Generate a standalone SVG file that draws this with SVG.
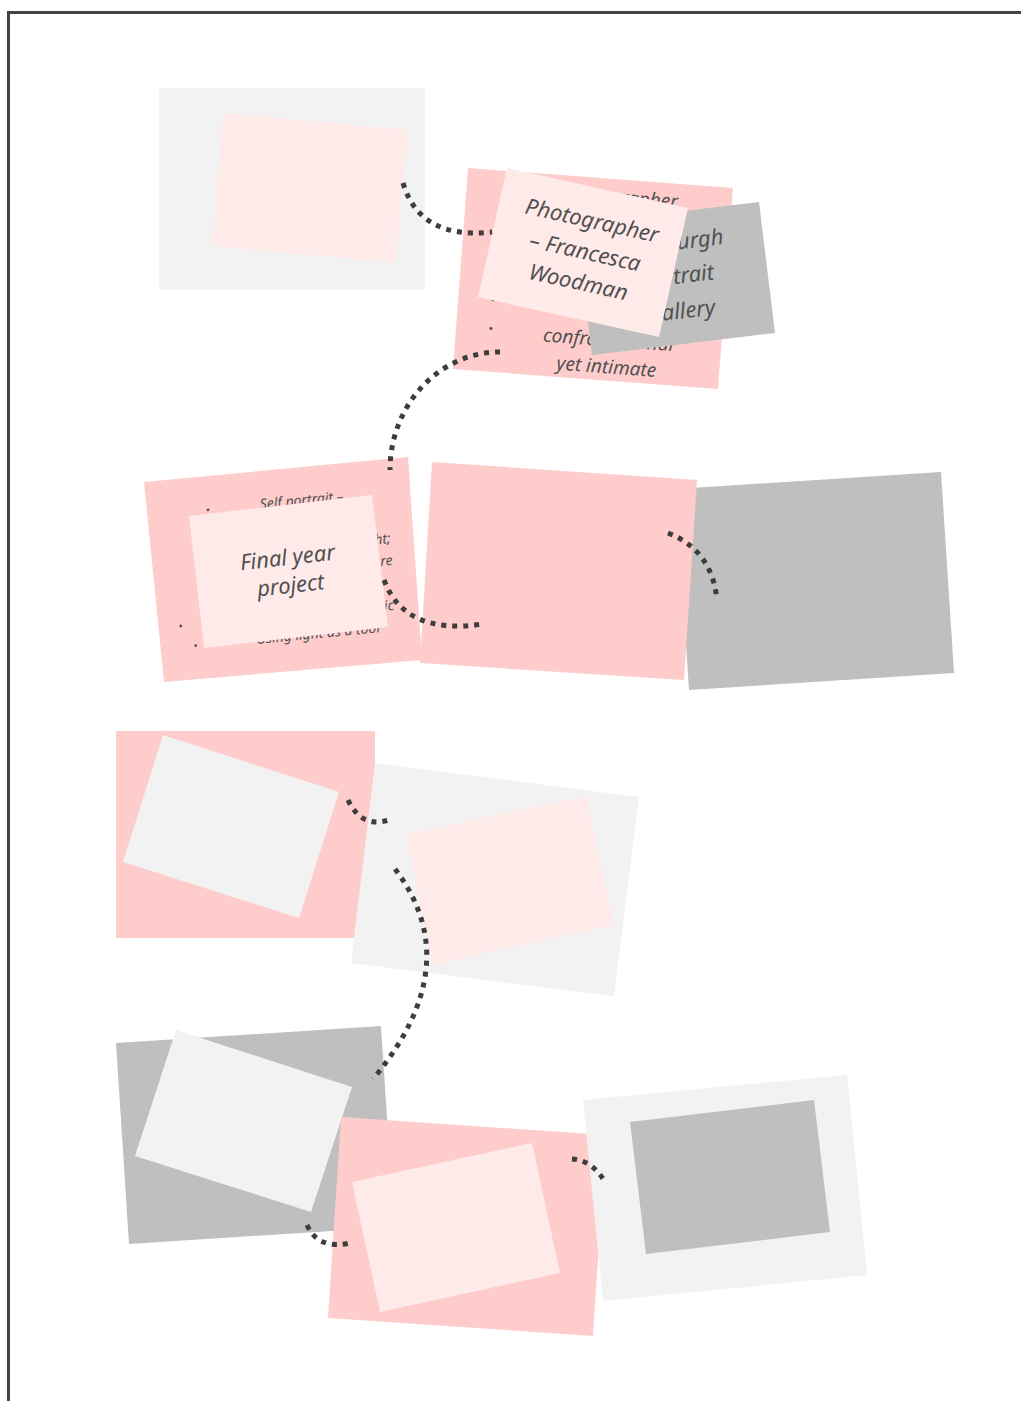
<svg xmlns="http://www.w3.org/2000/svg" width="1021" height="1401" viewBox="0 0 1021 1401">
<style>
.pink{fill:#ffcccc}
.lpink{fill:#ffeaea}
.gray{fill:#bfbfbf}
.lgray{fill:#f2f2f2}
.t{font-family:"Noto Sans","DejaVu Sans",sans-serif;font-style:italic;fill:#505050}
.title{font-size:22px;text-anchor:middle}
.sub{font-size:19px;text-anchor:middle}
.small{font-size:14px}
.bul{fill:#505050}
.conn{fill:none;stroke:#3d3d3d;stroke-width:5;stroke-dasharray:5 6}
</style>
<rect width="1021" height="1401" fill="#ffffff"/>
<path d="M8.5,1401 V12.5 H1021" fill="none" stroke="#444444" stroke-width="3"/>

<g id="node1">
<rect class="lgray" x="159" y="88" width="266" height="202"/>
<polygon class="lpink" points="223,113 408,130 396,263 212,246"/>
</g>

<g id="node2">
<polygon class="pink" points="468,168 733,188 718,389 453,369"/>
<g transform="rotate(4.3 593 278.5)">
<text class="t sub" x="613" y="202">Photographer</text>
<circle class="bul" cx="495" cy="307" r="1.6"/>
<circle class="bul" cx="495" cy="336" r="1.6"/>
<text class="t sub" x="613" y="345">confrontational</text>
<text class="t sub" x="613" y="372">yet intimate</text>
</g>
<polygon class="gray" points="576,224 759,202 775,333 592,355"/>
<g transform="rotate(-6.9 675.5 278.5)">
<text class="t title" x="677" y="250">Edinburgh</text>
<text class="t title" x="677" y="284">Portrait</text>
<text class="t title" x="677" y="319">Gallery</text>
</g>
<polygon class="lpink" points="507,168 688,208 659,337 478,297"/>
<g transform="rotate(12.5 583 252.5)">
<text class="t title" x="585" y="227">Photographer</text>
<text class="t title" x="585" y="259">– Francesca</text>
<text class="t title" x="585" y="290">Woodman</text>
</g>
</g>

<g id="node3">
<polygon class="pink" points="144,482 408,457 422,660 164,682"/>
<g transform="rotate(-5.4 284.5 570)">
<circle class="bul" cx="214" cy="503" r="1.4"/>
<text class="t small" x="308" y="507" text-anchor="middle">Self portrait –</text>
<text class="t small" x="393" y="553" text-anchor="end">a moment of thought;</text>
<text class="t small" x="393" y="575" text-anchor="end">the female figure</text>
<circle class="bul" cx="176" cy="616" r="1.4"/>
<text class="t small" x="390" y="620" text-anchor="end">intimate and dramatic</text>
<circle class="bul" cx="189" cy="637" r="1.4"/>
<text class="t small" x="312" y="641" text-anchor="middle">Using light as a tool</text>
</g>
<polygon class="lpink" points="189,516 372,495 388,627 204,648"/>
<g transform="rotate(-6.5 288.25 571.5)">
<text class="t title" x="289" y="565">Final year</text>
<text class="t title" x="289" y="593">project</text>
</g>
</g>

<g id="node5">
<polygon class="gray" points="676,489 941,472 954,673 689,690"/>
</g>

<g id="node4">
<polygon class="pink" points="432,462 697,480 684,680 420,663"/>
</g>

<g id="node6">
<rect class="pink" x="116" y="731" width="259" height="207"/>
<polygon class="lgray" points="163,735 339,792 299,918 123,862"/>
</g>

<g id="node7">
<polygon class="lgray" points="375,763 639,797 614,996 351,963"/>
<polygon class="lpink" points="406,834 586,796 614,925 432,965"/>
</g>

<g id="node8">
<polygon class="gray" points="116,1043 381,1026 394,1227 129,1244"/>
<polygon class="lgray" points="176,1030 352,1087 311,1212 135,1156"/>
</g>

<g id="node9">
<polygon class="pink" points="341,1117 606,1135 593,1336 328,1318"/>
<polygon class="lpink" points="352,1182 532,1143 560,1273 380,1312"/>
</g>

<g id="node10">
<polygon class="lgray" points="583,1100 847,1075 867,1275 603,1301"/>
<polygon class="gray" points="630,1122 814,1100 830,1232 646,1254"/>
</g>

<g id="connectors">
<path class="conn" d="M403,183 Q420,240 492,232"/>
<path class="conn" d="M500,352 A110 118 0 0 0 390,470"/>
<path class="conn" d="M384,580 Q405,636 483,624"/>
<path class="conn" d="M668,533 Q712,550 717,600"/>
<path class="conn" d="M348,800 Q362,830 392,819"/>
<path class="conn" d="M395,869 Q468,965 373,1079"/>
<path class="conn" d="M307,1225 Q318,1250 350,1243"/>
<path class="conn" d="M572,1159 Q592,1160 605,1182"/>
</g>
</svg>
